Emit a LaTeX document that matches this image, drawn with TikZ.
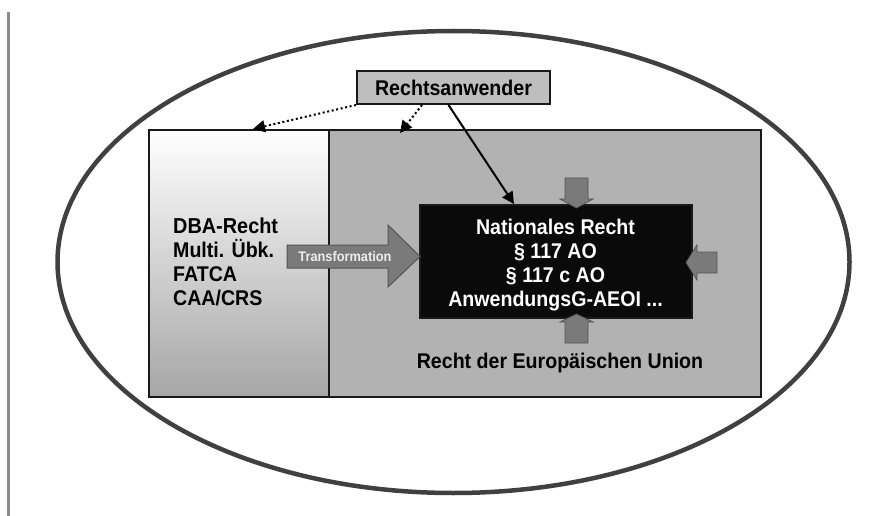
\documentclass[tikz,border=0pt]{standalone}
\usepackage{fontspec}
\setmainfont{Liberation Sans}[FakeStretch=0.92]
\usetikzlibrary{arrows.meta}

\begin{document}
\begin{tikzpicture}[x=1pt, y=-1pt, >={Triangle[length=12pt, width=12pt]}, font=\bfseries]
    % Define Colors matching the scan
    \definecolor{framegray}{RGB}{64, 64, 64}     % ellipse
    \definecolor{bargray}{RGB}{140, 140, 140}    % margin bar
    \definecolor{eugray}{RGB}{178, 178, 178}     % EU box
    \definecolor{leftbot}{RGB}{166, 166, 166}    % gradient bottom
    \definecolor{usergray}{RGB}{190, 190, 190}   % Rechtsanwender
    \definecolor{arrowgray}{RGB}{122, 122, 122}  % block arrows
    \definecolor{arrowline}{RGB}{85, 85, 85}

    \tikzset{
        box/.style={draw=black!90, line width=2pt, inner sep=0pt, anchor=north west},
        bigtext/.style={font=\fontsize{21.3}{24}\selectfont\bfseries, inner sep=0pt},
        blockarrow/.style={fill=arrowgray, draw=arrowline, line width=1pt, line join=miter},
        link/.style={->, line width=2pt, black},
        hint/.style={->, line width=2pt, black, dash pattern=on 2pt off 2.6pt}
    }

    \useasboundingbox (0,0) rectangle (884,516);

    % Margin bar and frame
    \draw[bargray, line width=3pt] (8,12) -- (8,516);
    \draw[framegray, line width=4.5pt] (453.5,262) ellipse [x radius=396, y radius=231];

    % --- BOXES ---
    \node[box, fill=eugray, minimum width=432pt, minimum height=267pt] (eu) at (328,129) {};
    \node[box, top color=white, bottom color=leftbot, minimum width=180pt, minimum height=267pt] (dba) at (148,129) {};
    \node[box, fill=black!96, minimum width=272pt, minimum height=113pt] (national) at (419,204) {};
    \node[box, fill=usergray, minimum width=193pt, minimum height=33pt, font=\fontsize{21.3}{24}\selectfont\bfseries] (user) at (356,70) {Rechtsanwender};

    % Texts
    \node[bigtext, align=left, anchor=west] (dbatext) at (173,262)
        {\fontsize{21.6}{28}\selectfont DBA-Recht\\Multi. Übk.\\FATCA\\CAA/CRS};
    \node[bigtext, align=center, text=white] (nattext) at (555.5,265)
        {Nationales Recht\\§ 117 AO\\§ 117 c AO\\AnwendungsG-AEOI ...};
    \node[bigtext, anchor=base] (eutext) at (560,368) {Recht der Europäischen Union};

    % --- BLOCK ARROWS ---
    \draw[blockarrow] (287,245) -- (388,245) -- (388,225) -- (420,256.5) -- (388,287) -- (388,268) -- (287,268) -- cycle;
    \node[font=\fontsize{13.9}{14}\selectfont\bfseries, text=white!93!black, inner sep=0pt] (transtext) at (345,256.5) {Transformation};

    \draw[blockarrow, line width=0.8pt] (565,178) -- (588,178) -- (588,199) -- (593,199) -- (576.5,208) -- (560,199) -- (565,199) -- cycle;
    \draw[blockarrow, line width=0.8pt] (565,343) -- (588,343) -- (588,322) -- (593,322) -- (576.5,314) -- (560,322) -- (565,322) -- cycle;
    \draw[blockarrow, line width=0.8pt] (717,252) -- (717,273) -- (697,273) -- (697,280) -- (686,262.5) -- (697,245) -- (697,252) -- cycle;

    % --- CONNECTORS ---
    \coordinate (euhint) at (400,133);
    \draw[link] ([xshift=-5pt]user.south) -- ([xshift=-42pt]national.north);
    \draw[hint] (user.south west) -- ([xshift=14pt]dba.north);
    \draw[hint] ([xshift=66pt]user.south west) -- (euhint);

\end{tikzpicture}
\end{document}
